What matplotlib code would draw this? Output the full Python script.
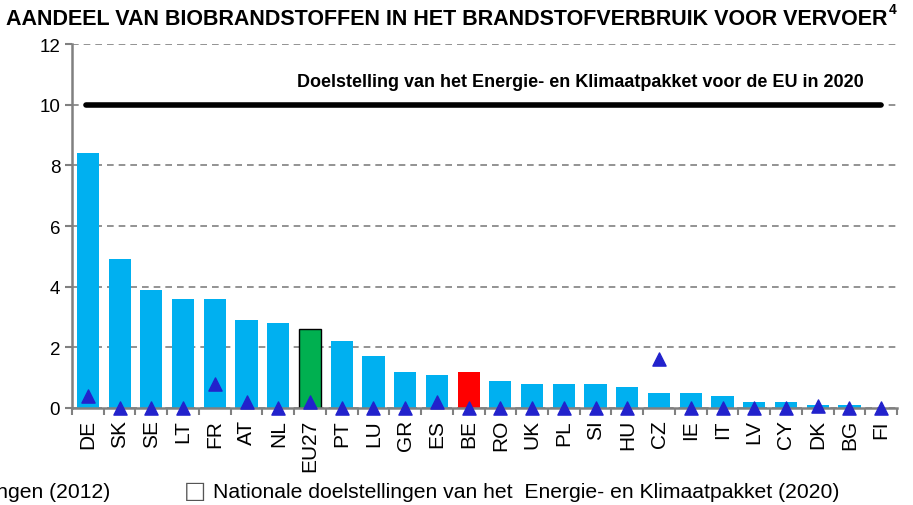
import matplotlib.pyplot as plt
import numpy as np

countries = ["DE", "SK", "SE", "LT", "FR", "AT", "NL", "EU27", "PT", "LU", "GR", "ES", "BE",
             "RO", "UK", "PL", "SI", "HU", "CZ", "IE", "IT", "LV", "CY", "DK", "BG", "FI"]
share_2012 = [8.4, 4.9, 3.9, 3.6, 3.6, 2.9, 2.8, 2.6, 2.2, 1.7, 1.2, 1.1, 1.2,
              0.9, 0.8, 0.8, 0.8, 0.7, 0.5, 0.5, 0.4, 0.2, 0.2, 0.1, 0.1, 0.0]
target_2012 = [0.4, 0, 0, 0, 0.8, 0.2, 0, 0.2, 0, 0, 0, 0.2, 0,
               0, 0, 0, 0, 0, 1.6, 0, 0, 0, 0, 0.05, 0, 0]
eu_target = 10

plt.rcParams['font.family'] = ['Liberation Sans', 'DejaVu Sans']

fig = plt.figure(figsize=(9.13, 5.06), dpi=100)
ax = fig.add_axes([0.0789, 0.1917, 0.9036, 0.7193])

x = np.arange(len(countries))
colors = []
for c in countries:
    if c == "EU27":
        colors.append("#00B050")
    elif c == "BE":
        colors.append("#FF0000")
    else:
        colors.append("#00B0F0")
edges = ["black" if c == "EU27" else "none" for c in countries]
ax.bar(x, share_2012, width=0.7, color=colors, edgecolor=edges, linewidth=1, zorder=2)
ax.scatter(x, target_2012, marker="^", s=90, color="#2222CC", zorder=4, clip_on=False)

ax.plot([-0.05, 25.0], [eu_target, eu_target], color="black", lw=4,
        solid_capstyle="round", zorder=3)
ax.text(24.45, 10.5, "Doelstelling van het Energie- en Klimaatpakket voor de EU in 2020",
        ha="right", va="bottom", fontsize=13, fontweight="bold")

ax.set_xlim(-0.5, len(countries) - 0.5)
ax.set_ylim(0, 12)
ax.set_yticks(range(0, 13, 2))
ax.set_xticks(x)
ax.set_xticklabels(countries, rotation=90, fontsize=15)
ax.set_xticks(np.arange(-0.5, len(countries), 1), minor=True)
ax.tick_params(axis="x", which="major", length=0, pad=8)
ax.tick_params(axis="x", which="minor", length=5, color="#808080", width=1.5)
ax.tick_params(axis="y", length=5, color="#808080", width=1.5, labelsize=13.5)
ax.yaxis.grid(True, linestyle=(0, (4, 3)), color="#808080", lw=1.2, zorder=0)
ax.set_axisbelow(True)
for s in ["top", "right"]:
    ax.spines[s].set_visible(False)
for s in ["left", "bottom"]:
    ax.spines[s].set_color("#808080")
    ax.spines[s].set_linewidth(1.8)

t = fig.text(6 / 913, 0.962, "AANDEEL VAN BIOBRANDSTOFFEN IN HET BRANDSTOFVERBRUIK VOOR VERVOER",
             ha="left", va="center", fontsize=15.5, fontweight="bold")
ax.annotate("4", xy=(1, 0.6), xycoords=t, xytext=(1, 0), textcoords="offset points",
            fontsize=10, fontweight="bold", va="bottom", ha="left")

fig.text(110 / 913, 0.026, "Nationale doelstellingen (2012)", ha="right", va="center", fontsize=15.2)
fig.text(184 / 913, 0.03, "\u25a1", ha="left", va="center", fontsize=17, color="#555555",
         family=["DejaVu Sans"])
fig.text(213 / 913, 0.026, "Nationale doelstellingen van het  Energie- en Klimaatpakket (2020)",
         ha="left", va="center", fontsize=15.2)

fig.savefig("out.png", dpi=100)
